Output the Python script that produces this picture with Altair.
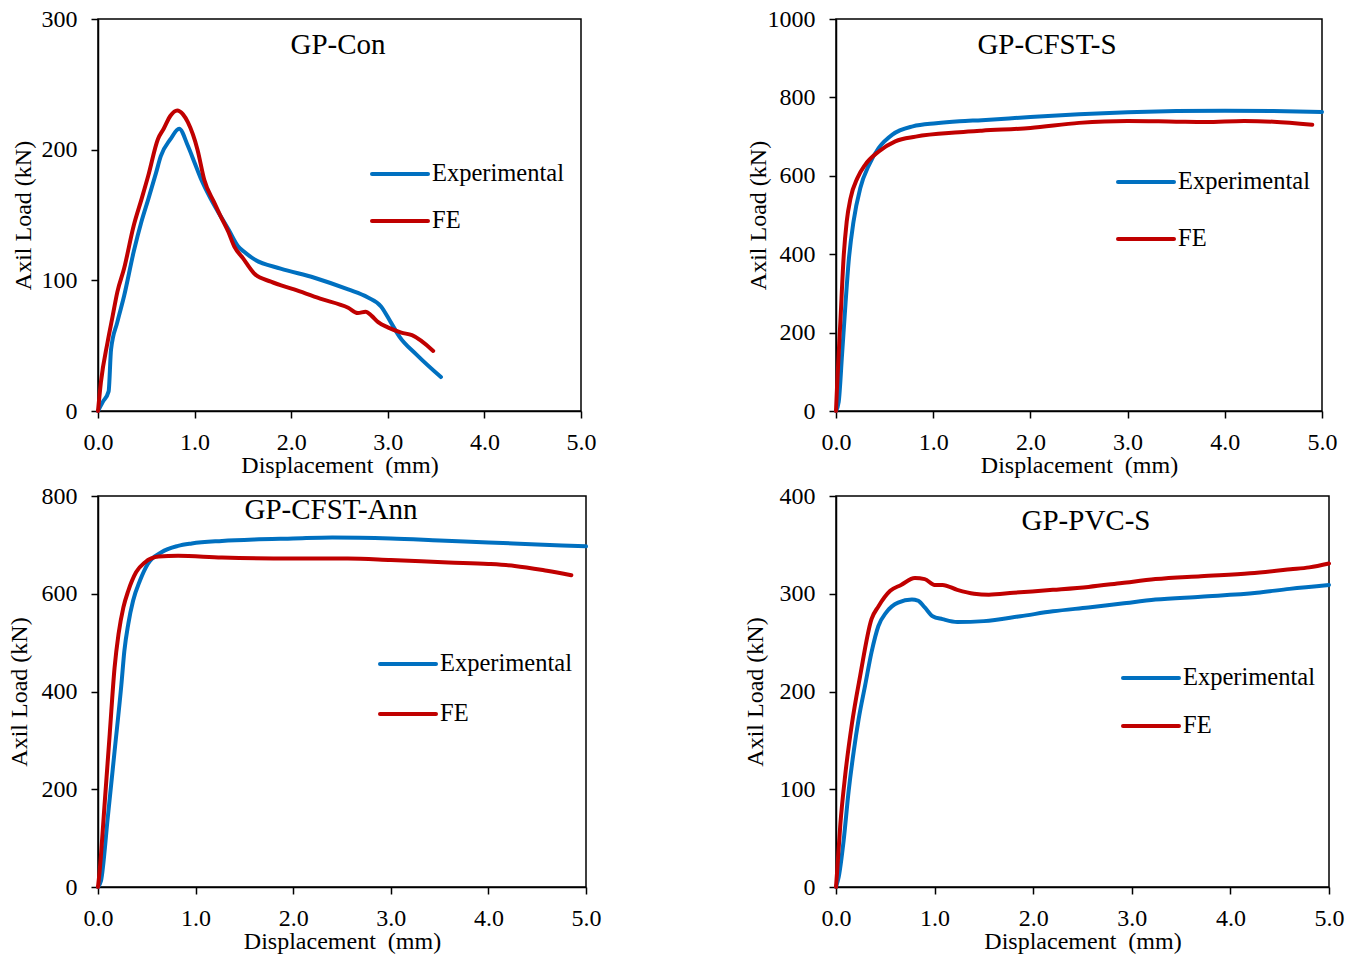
import altair as alt
import pandas as pd

FONT = "Liberation Serif"
BLUE = "#0070C0"
RED = "#C00000"

# ---- GP-Con ----
con_exp_x = [0, 0.05, 0.11, 0.135, 0.2, 0.27, 0.37, 0.45, 0.52, 0.6, 0.65, 0.75, 0.84, 0.93, 1.0,
             1.07, 1.17, 1.27, 1.35, 1.45, 1.51, 1.62, 1.89, 2.24, 2.59, 2.79, 2.93, 3.03, 3.12, 3.3, 3.55]
con_exp_y = [0, 7, 15, 47, 68, 88, 122, 145, 162, 182, 195, 208, 216, 203, 190,
             177, 162, 149, 139, 126, 122, 116, 109, 102, 93, 87, 80, 68, 57, 43, 26]
con_fe_x = [0, 0.03, 0.1, 0.15, 0.2, 0.27, 0.37, 0.45, 0.52, 0.62, 0.68, 0.75, 0.82, 0.88, 0.93,
            1.03, 1.1, 1.2, 1.27, 1.35, 1.41, 1.5, 1.62, 1.79, 2.03, 2.3, 2.59, 2.69, 2.77, 2.83,
            2.9, 3.0, 3.14, 3.25, 3.47]
con_fe_y = [0, 22, 53, 72, 91, 109, 142, 162, 180, 208, 216, 226, 230, 227, 221,
            200, 177, 160, 149, 137, 126, 117, 105, 99, 93, 86, 79, 75, 76, 73,
            68, 64, 60, 58, 46]

# ---- GP-CFST-S ----
cfs_exp_x = [0, 0.028, 0.062, 0.097, 0.13, 0.18, 0.25, 0.34, 0.44, 0.58, 0.79, 1.03, 1.27, 1.5,
             2.0, 2.5, 3.0, 3.5, 4.0, 4.5, 5.0]
cfs_exp_y = [0, 24, 143, 271, 381, 483, 569, 628, 671, 705, 726, 734, 739, 742,
             750, 757, 762, 765, 766, 765, 763]
cfs_fe_x = [0, 0.01, 0.045, 0.08, 0.11, 0.15, 0.22, 0.3, 0.44, 0.61, 0.82, 1.27, 1.5, 2.0,
            2.5, 3.0, 3.5, 3.8, 4.2, 4.5, 4.9]
cfs_fe_y = [0, 58, 228, 398, 483, 543, 594, 628, 662, 688, 700, 711, 715, 722,
            735, 740, 738, 737, 740, 738, 730]

# ---- GP-CFST-Ann ----
ann_exp_x = [0, 0.03, 0.1, 0.17, 0.24, 0.27, 0.31, 0.36, 0.43, 0.51, 0.65, 0.82, 0.96, 1.27,
             1.6, 2.0, 2.4, 3.0, 3.5, 4.0, 4.5, 5.0]
ann_exp_y = [0, 12, 142, 278, 415, 483, 538, 586, 627, 661, 685, 698, 703, 708,
             711, 713, 715, 713, 709, 705, 701, 697]
ann_fe_x = [0, 0.017, 0.07, 0.12, 0.17, 0.21, 0.26, 0.31, 0.39, 0.48, 0.62, 0.82, 1.27, 2.0,
            2.56, 3.0, 3.59, 4.0, 4.27, 4.6, 4.85]
ann_fe_y = [0, 33, 176, 313, 449, 517, 572, 606, 644, 664, 676, 678, 674, 672,
            672, 669, 664, 661, 657, 647, 638]

# ---- GP-PVC-S ----
pvc_exp_x = [0, 0.027, 0.077, 0.128, 0.18, 0.23, 0.295, 0.36, 0.43, 0.51, 0.63, 0.77, 0.83, 0.9,
             0.98, 1.08, 1.23, 1.5, 1.87, 2.2, 2.56, 2.9, 3.24, 3.7, 4.27, 4.6, 5.0]
pvc_exp_y = [0, 10, 47, 98, 139, 172, 206, 240, 267, 281, 291, 294, 293, 286,
             277, 274, 271, 272, 277, 282, 286, 290, 294, 297, 301, 305, 309]
pvc_fe_x = [0, 0.01, 0.044, 0.094, 0.16, 0.245, 0.36, 0.43, 0.55, 0.66, 0.8, 0.9, 1.0, 1.08,
            1.23, 1.4, 1.55, 1.8, 2.2, 2.56, 2.9, 3.24, 3.7, 4.2, 4.61, 4.8, 5.0]
pvc_fe_y = [0, 14, 64, 115, 166, 216, 274, 287, 303, 309, 316, 315, 309, 309,
            304, 300, 299, 301, 304, 307, 311, 315, 318, 321, 325, 327, 331]

x_ticks = [0, 1, 2, 3, 4, 5]
series = ["Experimental", "FE"]


def panel(name, exp_x, exp_y, fe_x, fe_y, ymax, ystep, w, h,
          title_pos, legend_pos, ytitle_off):
    df = pd.DataFrame({
        "d": exp_x + fe_x,
        "p": exp_y + fe_y,
        "s": [series[0]] * len(exp_x) + [series[1]] * len(fe_x),
        "i": list(range(len(exp_x))) + list(range(len(fe_x))),
    })
    lines = alt.Chart(df).mark_line(
        strokeWidth=4, strokeCap="round", strokeJoin="round", interpolate="monotone"
    ).encode(
        x=alt.X("d:Q", scale=alt.Scale(domain=[0, 5], nice=False),
                axis=alt.Axis(values=x_ticks, format=".1f", labelFlush=False,
                              title="Displacement\u00a0 (mm)", titleX=w / 2, titleY=54,
                              titleBaseline="middle", labelPadding=12)),
        y=alt.Y("p:Q", scale=alt.Scale(domain=[0, ymax], nice=False),
                axis=alt.Axis(values=list(range(0, ymax + 1, ystep)), format="d",
                              title="Axil Load (kN)", titleX=-ytitle_off, titleY=h / 2,
                              titleBaseline="middle", titleAngle=270, labelPadding=14)),
        color=alt.Color("s:N", scale=alt.Scale(domain=series, range=[BLUE, RED]), legend=None),
        order="i:Q",
    )

    one = pd.DataFrame({"k": [0]})
    tx, ty = title_pos
    title = alt.Chart(one).mark_text(
        font=FONT, fontSize=29, align="center", baseline="middle", color="black"
    ).encode(x=alt.value(tx), y=alt.value(ty), text=alt.value(name))

    lx, ly1, ly2 = legend_pos
    layers = [lines, title]
    for lab, col, ly in [(series[0], BLUE, ly1), (series[1], RED, ly2)]:
        layers.append(alt.Chart(one).mark_rule(strokeWidth=4, strokeCap="round").encode(
            x=alt.value(lx), x2=alt.value(lx + 56), y=alt.value(ly), color=alt.value(col)))
        layers.append(alt.Chart(one).mark_text(
            font=FONT, fontSize=24.5, align="left", baseline="middle", color="black"
        ).encode(x=alt.value(lx + 60), y=alt.value(ly), text=alt.value(lab)))

    return alt.layer(*layers).properties(width=w, height=h)


p1 = panel("GP-Con", con_exp_x, con_exp_y, con_fe_x, con_fe_y, 300, 100, 483, 392,
           (240, 26), (274, 155, 202), 75)
p2 = panel("GP-CFST-S", cfs_exp_x, cfs_exp_y, cfs_fe_x, cfs_fe_y, 1000, 200, 486, 392,
           (211, 26), (282, 163, 220), 78)
p3 = panel("GP-CFST-Ann", ann_exp_x, ann_exp_y, ann_fe_x, ann_fe_y, 800, 200, 488, 391,
           (233, 14), (282, 168, 218), 79)
p4 = panel("GP-PVC-S", pvc_exp_x, pvc_exp_y, pvc_fe_x, pvc_fe_y, 400, 100, 493, 391,
           (250, 25), (287, 182, 230), 81)

chart = alt.concat(
    p1, p2, p3, p4, columns=2, spacing={"row": 85, "column": 250}, bounds="flush"
).properties(
    padding={"left": 6, "top": 6, "right": 5, "bottom": 5},
    background="white",
).configure_view(
    stroke="black", strokeWidth=1.5
).configure_axis(
    grid=False,
    domainColor="black", domainWidth=1.5,
    tickColor="black", tickWidth=1.5, tickSize=7,
    labelFont=FONT, labelFontSize=24, labelColor="black",
    titleFont=FONT, titleFontSize=24, titleFontWeight="normal", titleColor="black",
    labelOverlap=False,
)

chart.save("out.html", embed_options={"renderer": "svg", "actions": False})
